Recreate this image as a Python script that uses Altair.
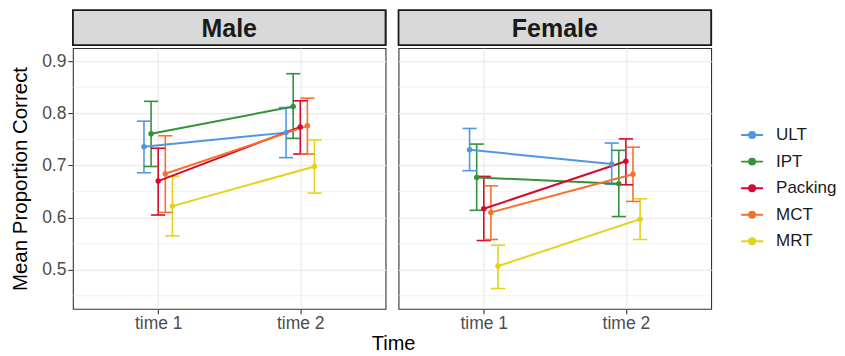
import altair as alt
import pandas as pd

series = ["ULT", "IPT", "Packing", "MCT", "MRT"]
colors = ["#4f97e3", "#36923a", "#d50a2e", "#f7712b", "#e3d31a"]
sexes = ["Male", "Female"]

male_t1_mean = [0.736, 0.761, 0.670, 0.684, 0.622]
male_t1_lo = [0.686, 0.698, 0.605, 0.610, 0.565]
male_t1_hi = [0.785, 0.823, 0.733, 0.757, 0.679]
male_t2_mean = [0.763, 0.813, 0.774, 0.776, 0.698]
male_t2_lo = [0.715, 0.752, 0.722, 0.722, 0.647]
male_t2_hi = [0.811, 0.876, 0.824, 0.829, 0.749]

female_t1_mean = [0.730, 0.677, 0.617, 0.610, 0.507]
female_t1_lo = [0.690, 0.614, 0.556, 0.558, 0.464]
female_t1_hi = [0.771, 0.741, 0.679, 0.661, 0.547]
female_t2_mean = [0.703, 0.665, 0.708, 0.683, 0.597]
female_t2_lo = [0.664, 0.602, 0.663, 0.631, 0.558]
female_t2_hi = [0.743, 0.729, 0.751, 0.735, 0.636]

y_ticks = [0.5, 0.6, 0.7, 0.8, 0.9]
y_minor = [0.45, 0.55, 0.65, 0.75, 0.85]
x_ticks = [1, 2]

table = {
    ("Male", 1): (male_t1_mean, male_t1_lo, male_t1_hi),
    ("Male", 2): (male_t2_mean, male_t2_lo, male_t2_hi),
    ("Female", 1): (female_t1_mean, female_t1_lo, female_t1_hi),
    ("Female", 2): (female_t2_mean, female_t2_lo, female_t2_hi),
}
rows = []
for (sex, t), (m, lo, hi) in table.items():
    for i, s in enumerate(series):
        rows.append(dict(sex=sex, time=t, series=s, sidx=i, mean=m[i], lo=lo[i], hi=hi[i]))
df = pd.DataFrame(rows)
minor_df = pd.DataFrame({"v": y_minor})

FONT = "Liberation Sans"
W, H, SH = 313, 261, 35
DODGE = 0.25
CAP = 0.05
n = len(series)
GRID = "#ebebeb"

legend_path = "M-1,0H1M-0.27,0A0.27,0.27,0,1,0,0.27,0A0.27,0.27,0,1,0,-0.27,0Z"
color = alt.Color(
    "series:N",
    scale=alt.Scale(domain=series, range=colors),
    sort=series,
    legend=alt.Legend(
        title=None, orient="none", legendX=668, legendY=113,
        symbolType=legend_path, symbolSize=484, symbolStrokeWidth=2,
        labelFontSize=17, labelFont=FONT, labelColor="#1a1a1a",
        labelOffset=12, rowPadding=6.6, padding=0, symbolOpacity=1,
    ),
)

xscale = alt.Scale(domain=[0.4, 2.6], nice=False, zero=False)
yscale = alt.Scale(domain=[0.425, 0.925], nice=False, zero=False)


def panel(sex, first):
    xaxis = alt.Axis(values=x_ticks, labelExpr="'time ' + datum.value", title=None,
                     grid=True, gridColor=GRID, gridWidth=1.3, domain=False,
                     tickColor="#333333", tickSize=5, tickWidth=1.1,
                     labelFont=FONT, labelFontSize=17.5, labelColor="#4d4d4d", labelPadding=1)
    if first:
        yaxis = alt.Axis(values=y_ticks, grid=True, gridColor=GRID, gridWidth=1.3,
                         format=".1f", labelOverlap=False,
                         tickColor="#333333", tickSize=5, tickWidth=1.1, domain=False,
                         labelFont=FONT, labelFontSize=17.5, labelColor="#4d4d4d", labelPadding=2,
                         title="Mean Proportion Correct", titleFont=FONT, titleFontSize=20.5,
                         titleFontWeight="normal", titleColor="#000000", titlePadding=11)
    else:
        yaxis = alt.Axis(values=y_ticks, grid=True, gridColor=GRID, gridWidth=1.3,
                         labels=False, ticks=False, domain=False, title=None)
    minor = alt.Chart(minor_df).mark_rule(color=GRID, strokeWidth=0.65).encode(
        y=alt.Y("v:Q", scale=yscale, axis=yaxis))
    base = alt.Chart(df).transform_filter(alt.datum.sex == sex).transform_calculate(
        xd=f"datum.time + (datum.sidx - {(n - 1) / 2}) * {DODGE / n}",
    ).transform_calculate(
        xl=f"datum.xd - {CAP}", xr=f"datum.xd + {CAP}"
    )
    x = alt.X("xd:Q", scale=xscale, axis=xaxis)
    vbar = base.mark_rule(strokeWidth=1.6).encode(
        x=x, y=alt.Y("lo:Q", scale=yscale, axis=yaxis), y2="hi:Q", color=color)
    cap_hi = base.mark_rule(strokeWidth=1.6).encode(
        x=alt.X("xl:Q", scale=xscale, axis=xaxis), x2="xr:Q",
        y=alt.Y("hi:Q", scale=yscale, axis=yaxis), color=color)
    cap_lo = base.mark_rule(strokeWidth=1.6).encode(
        x=alt.X("xl:Q", scale=xscale, axis=xaxis), x2="xr:Q",
        y=alt.Y("lo:Q", scale=yscale, axis=yaxis), color=color)
    line = base.mark_line(strokeWidth=2).encode(
        x=x, y=alt.Y("mean:Q", scale=yscale, axis=yaxis), color=color, order="time:Q")
    pts = base.mark_point(filled=True, size=30, opacity=1).encode(
        x=x, y=alt.Y("mean:Q", scale=yscale, axis=yaxis), color=color)
    return alt.layer(minor, vbar, cap_hi, cap_lo, line, pts).properties(width=W, height=H)


def strip(sex):
    d = pd.DataFrame({"sex": [sex]})
    rect = alt.Chart(d).mark_rect(fill="#d9d9d9", stroke="#1a1a1a", strokeWidth=1.8).encode(
        x=alt.value(0), x2=alt.value(W), y=alt.value(0), y2=alt.value(SH))
    txt = alt.Chart(d).mark_text(font=FONT, fontSize=25, fontWeight="bold", color="#1a1a1a",
                                 baseline="middle", align="center").encode(
        text="sex:N", x=alt.value(W / 2), y=alt.value(SH / 2 + 1))
    return alt.layer(rect, txt).properties(width=W, height=SH)


cols = [alt.vconcat(strip(s), panel(s, i == 0), spacing=0) for i, s in enumerate(sexes)]
chart = alt.hconcat(*cols, spacing=9).properties(
    title=alt.Title("Time", orient="bottom", anchor="start", align="center", dx=384,
                    fontSize=20, font=FONT, fontWeight="normal", color="#000000", offset=1),
    padding={"left": 2, "top": 0, "right": 0, "bottom": 0},
).configure_view(stroke="#333333", strokeWidth=1.1)

chart.save("out.html", embed_options={"renderer": "svg", "actions": False})
